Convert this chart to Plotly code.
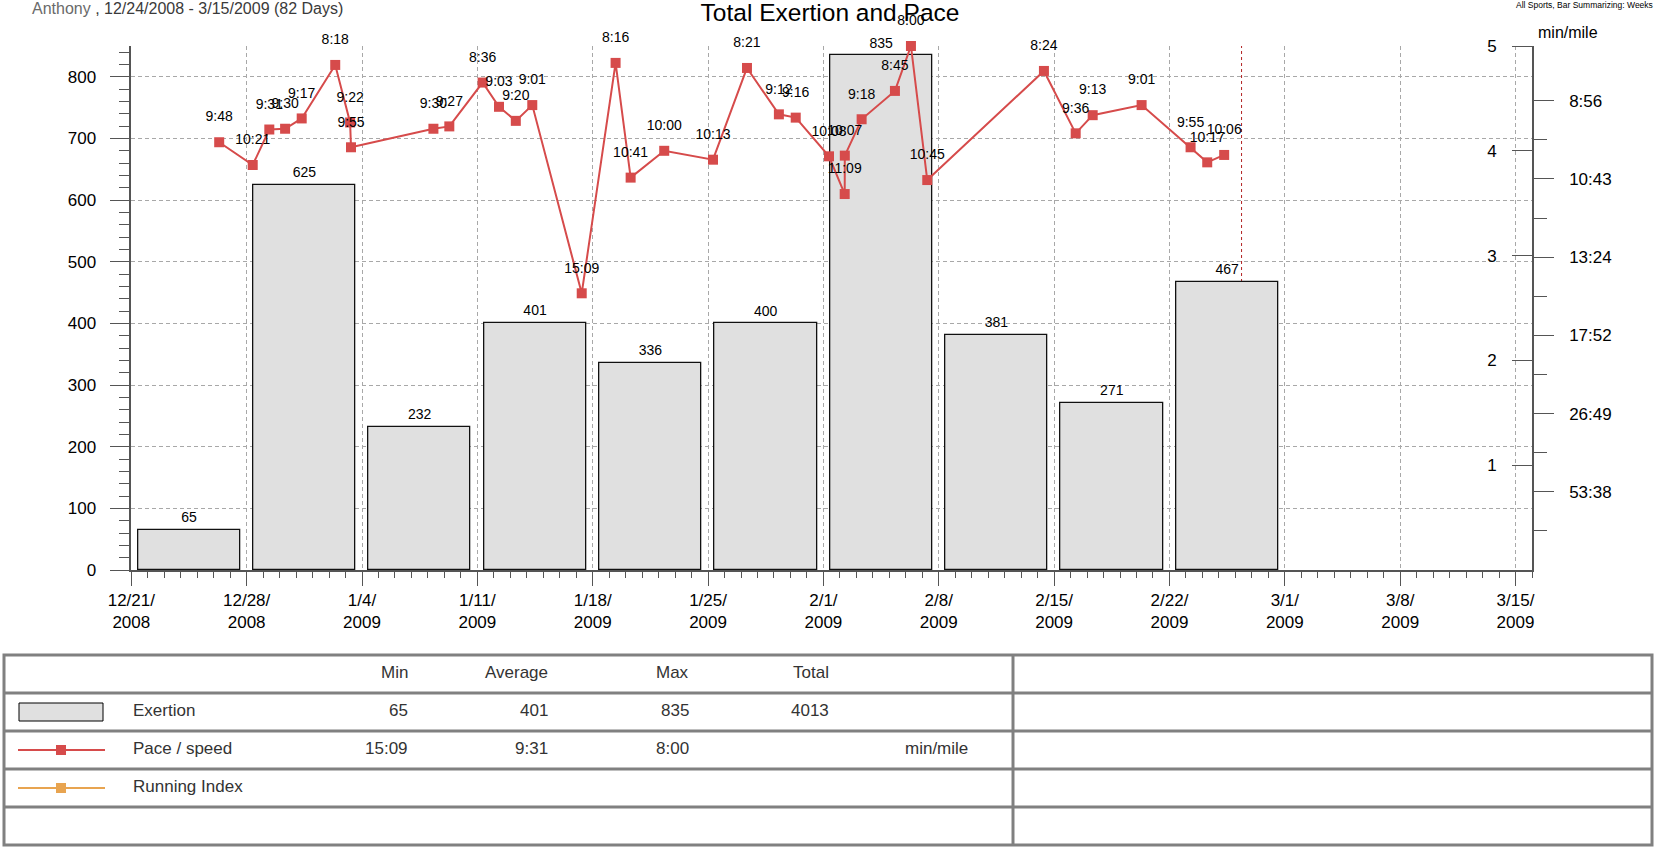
import plotly.graph_objects as go
import pandas as pd

W, H = 1658, 856
FONT = "Liberation Sans, Arial, sans-serif"

# ---------------- data ----------------
week_starts = ["2008-12-21", "2008-12-28", "2009-01-04", "2009-01-11", "2009-01-18",
               "2009-01-25", "2009-02-01", "2009-02-08", "2009-02-15", "2009-02-22"]
exertion = [65, 625, 232, 401, 336, 400, 835, 381, 271, 467]

pace_times = ["2008-12-26 08:00", "2008-12-28 08:50", "2008-12-29 09:00", "2008-12-30 08:00",
              "2008-12-31 08:10", "2009-01-02 09:00", "2009-01-03 06:40", "2009-01-03 08:00",
              "2009-01-08 08:00", "2009-01-09 07:10", "2009-01-11 07:40", "2009-01-12 07:30",
              "2009-01-13 08:00", "2009-01-14 08:00", "2009-01-17 08:00", "2009-01-19 09:20",
              "2009-01-20 07:15", "2009-01-22 08:10", "2009-01-25 07:10", "2009-01-27 08:40",
              "2009-01-29 07:10", "2009-01-30 07:40", "2009-02-01 08:10", "2009-02-02 07:00",
              "2009-02-02 07:10", "2009-02-03 07:40", "2009-02-05 08:10", "2009-02-06 07:30",
              "2009-02-07 07:15", "2009-02-14 09:10", "2009-02-16 07:25", "2009-02-17 08:10",
              "2009-02-20 07:25", "2009-02-23 06:45", "2009-02-24 07:00", "2009-02-25 07:40"]
pace_labels = ["9:48", "10:21", "9:31", "9:30", "9:17", "8:18", "9:22", "9:55",
               "9:30", "9:27", "8:36", "9:03", "9:20", "9:01", "15:09", "8:16",
               "10:41", "10:00", "10:13", "8:21", "9:12", "9:16", "10:08", "11:09",
               "10:07", "9:18", "8:45", "8:00", "10:45", "8:24", "9:36", "9:13",
               "9:01", "9:55", "10:17", "10:06"]

pace_tick_labels = ["8:56", "10:43", "13:24", "17:52", "26:49", "53:38"]
scale_tick_labels = ["1", "2", "3", "4", "5"]
speed_top = 7.5          # mph at the top of the right axis (fastest pace 8:00)

x_range = ["2008-12-21", "2009-03-16"]
exertion_range = [0, 850]
marker_date = "2009-02-26 09:00"

header_text = "Anthony"
header_period = " , 12/24/2008 - 3/15/2009 (82 Days)"
chart_title = "Total Exertion and Pace"
top_right_text = "All Sports, Bar Summarizing: Weeks"
pace_unit = "min/mile"

stat_headers = ["Min", "Average", "Max", "Total"]
series_names = ["Exertion", "Pace / speed", "Running Index"]
exertion_stats = ["65", "401", "835", "4013"]
pace_stats = ["15:09", "9:31", "8:00", ""]

BAR_FILL = "#e0e0e0"
PACE_COLOR = "#d64b4b"
RI_COLOR = "#e8a450"
AXIS_COLOR = "#555555"
GRID_COLOR = "#a8a8a8"
CLEAR = "rgba(0,0,0,0)"


def pace_to_mph(p):
    m, s = p.split(":")
    return 60.0 / (int(m) + int(s) / 60.0)


def px(x):
    return x / W


def py(y):
    return 1 - y / H


pace_speed = [pace_to_mph(p) for p in pace_labels]
pace_tick_vals = [pace_to_mph(p) for p in pace_tick_labels]
asc = sorted(pace_tick_vals)
minor_vals = [(a + b) / 2 for a, b in zip([0] + asc[:-1], asc)]
scale_tick_vals = [speed_top * (i + 1) / len(scale_tick_labels) for i in range(len(scale_tick_labels))]

bar_x = pd.to_datetime(week_starts) + pd.Timedelta(days=3.5)
pace_x = pd.to_datetime(pace_times)
DAY_MS = 86400000

# plot area (pixels)
X0, X1 = 131.3, 1532.0
Y0, Y1 = 46.0, 570.0

fig = go.Figure()

fig.add_trace(go.Bar(
    x=bar_x, y=exertion, width=6.2 * DAY_MS,
    marker=dict(color=BAR_FILL, line=dict(color="#111111", width=1.3)),
    showlegend=False, hoverinfo="x+y",
    xaxis="x", yaxis="y",
))
# bar value labels
fig.add_trace(go.Scatter(
    x=bar_x, y=exertion, mode="markers+text",
    marker=dict(size=5, color=CLEAR),
    text=[str(v) for v in exertion], textposition="top center",
    textfont=dict(family=FONT, size=14, color="#000000"),
    cliponaxis=False, showlegend=False, hoverinfo="skip",
    xaxis="x", yaxis="y",
))

fig.add_trace(go.Scatter(
    x=pace_x, y=pace_speed, mode="lines+markers",
    line=dict(color=PACE_COLOR, width=2),
    marker=dict(symbol="square", size=10, color=PACE_COLOR),
    cliponaxis=False, showlegend=False,
    xaxis="x", yaxis="y2",
))
# pace value labels
fig.add_trace(go.Scatter(
    x=pace_x, y=pace_speed, mode="markers+text",
    marker=dict(size=26, color=CLEAR),
    text=pace_labels, textposition="top center",
    textfont=dict(family=FONT, size=14, color="#000000"),
    cliponaxis=False, showlegend=False, hoverinfo="skip",
    xaxis="x", yaxis="y2",
))

# empty trace so the scale axis is created
fig.add_trace(go.Scatter(x=[], y=[], xaxis="x", yaxis="y3", showlegend=False))

tickfont = dict(family=FONT, size=17, color="#000000")

fig.update_layout(
    width=W, height=H,
    margin=dict(l=0, r=0, t=0, b=0, pad=0, autoexpand=False),
    paper_bgcolor="white", plot_bgcolor="white",
    showlegend=False,
    bargap=0,
    title=dict(text=chart_title, x=px(830), y=py(12), xanchor="center", yanchor="middle",
               font=dict(family=FONT, size=24.5, color="#000000")),
    xaxis=dict(
        type="date", domain=[px(X0), px(X1)], range=x_range, anchor="y", automargin=False,
        tick0=week_starts[0], dtick=7 * DAY_MS, tickformat="%-m/%-d/<br>%Y",
        ticks="outside", ticklen=14, tickcolor=AXIS_COLOR, tickwidth=1,
        showline=True, linecolor=AXIS_COLOR, linewidth=1.5,
        showgrid=True, gridcolor=GRID_COLOR, griddash="4px,3px", gridwidth=1,
        minor=dict(tick0=week_starts[0], dtick=DAY_MS, ticks="outside", ticklen=6,
                   tickcolor=AXIS_COLOR, showgrid=False),
        tickfont=tickfont, zeroline=False,
    ),
    yaxis=dict(
        domain=[py(Y1), py(Y0)], range=exertion_range, dtick=100, anchor="x", automargin=False,
        ticks="outside", ticklen=20, tickcolor=AXIS_COLOR, tickwidth=1,
        showline=True, linecolor=AXIS_COLOR, linewidth=1.5,
        showgrid=True, gridcolor=GRID_COLOR, griddash="4px,3px", gridwidth=1,
        minor=dict(dtick=20, ticks="outside", ticklen=11, tickcolor=AXIS_COLOR, showgrid=False),
        zeroline=False, tickfont=tickfont, ticklabelstandoff=10,
    ),
    yaxis2=dict(
        overlaying="y", side="right", anchor="x", range=[0, speed_top], automargin=False,
        tickvals=pace_tick_vals, ticktext=pace_tick_labels,
        ticks="outside", ticklen=20, tickcolor=AXIS_COLOR, tickwidth=1,
        showline=True, linecolor=AXIS_COLOR, linewidth=1.5, showgrid=False, zeroline=False,
        minor=dict(tickvals=minor_vals, ticks="outside", ticklen=13, tickcolor=AXIS_COLOR,
                   showgrid=False),
        tickfont=tickfont, ticklabelstandoff=12,
    ),
    yaxis3=dict(
        overlaying="y", side="left", anchor="free", position=px(X1), range=[0, speed_top],
        automargin=False,
        tickvals=scale_tick_vals, ticktext=scale_tick_labels,
        ticks="outside", ticklen=20, tickcolor=AXIS_COLOR, tickwidth=1,
        showline=False, showgrid=False, zeroline=False,
        tickfont=tickfont, ticklabelstandoff=12,
    ),
)

shapes = []
annotations = []

# marker line (drawn below the bars)
shapes.append(dict(type="line", xref="x", yref="y", x0=marker_date, x1=marker_date,
                   y0=exertion_range[0], y1=exertion_range[1], layer="below",
                   line=dict(color="#b22222", width=1, dash="3px,3px")))

# header texts
annotations.append(dict(xref="paper", yref="paper", x=px(30), y=py(9), xanchor="left", yanchor="middle",
                        text=f"<span style='color:#6a6a6a'>{header_text}</span>{header_period}",
                        showarrow=False, font=dict(family=FONT, size=16, color="#3a3a3a")))
annotations.append(dict(xref="paper", yref="paper", x=px(1655), y=py(5), xanchor="right", yanchor="middle",
                        text=top_right_text, showarrow=False,
                        font=dict(family=FONT, size=8.5, color="#000000")))
annotations.append(dict(xref="paper", yref="paper", x=px(1568), y=py(33), xanchor="center", yanchor="middle",
                        text=pace_unit, showarrow=False,
                        font=dict(family=FONT, size=16, color="#000000")))

# ---------------- summary table ----------------
TL, TR = 4, 1652
row_y = [655, 693, 731, 769, 807, 845]
TDIV = 1013
TB = "#808080"
shapes.append(dict(type="rect", xref="paper", yref="paper", x0=px(TL), x1=px(TR),
                   y0=py(row_y[0]), y1=py(row_y[-1]), line=dict(color=TB, width=3)))
for yy in row_y[1:-1]:
    shapes.append(dict(type="line", xref="paper", yref="paper", x0=px(TL), x1=px(TR),
                       y0=py(yy), y1=py(yy), line=dict(color=TB, width=3)))
shapes.append(dict(type="line", xref="paper", yref="paper", x0=px(TDIV), x1=px(TDIV),
                   y0=py(row_y[0]), y1=py(row_y[-1]), line=dict(color=TB, width=3)))

centers = [(row_y[i] + row_y[i + 1]) / 2 - 1.5 for i in range(len(row_y) - 1)]
col_right = [410, 550, 691, 831]
tfont = dict(family=FONT, size=17, color="#333333")


def txt(x, y, s, anchor):
    annotations.append(dict(xref="paper", yref="paper", x=px(x), y=py(y), xanchor=anchor,
                            yanchor="middle", text=s, showarrow=False, font=tfont))


for cx, h in zip(col_right, stat_headers):
    txt(cx, centers[0], h, "right")
for i, name in enumerate(series_names):
    txt(131, centers[i + 1], name, "left")
for cx, v in zip(col_right, exertion_stats):
    if v:
        txt(cx, centers[1], v, "right")
for cx, v in zip(col_right, pace_stats):
    if v:
        txt(cx, centers[2], v, "right")
txt(970, centers[2], pace_unit, "right")

# legend symbols
c1 = centers[1] + 1.5
shapes.append(dict(type="rect", xref="paper", yref="paper", x0=px(19), x1=px(103),
                   y0=py(c1 - 9), y1=py(c1 + 9), fillcolor=BAR_FILL,
                   line=dict(color="#000000", width=1)))
for row, col in ((2, PACE_COLOR), (3, RI_COLOR)):
    cy = centers[row] + 1.5
    shapes.append(dict(type="line", xref="paper", yref="paper", x0=px(18), x1=px(105),
                       y0=py(cy), y1=py(cy), line=dict(color=col, width=2)))
    shapes.append(dict(type="rect", xref="paper", yref="paper", x0=px(56), x1=px(66),
                       y0=py(cy - 5), y1=py(cy + 5), fillcolor=col, line=dict(width=0)))

fig.update_layout(shapes=shapes, annotations=annotations)

fig.write_html("out.html", config={"displayModeBar": False},
               post_script="document.body.style.margin='0';")
